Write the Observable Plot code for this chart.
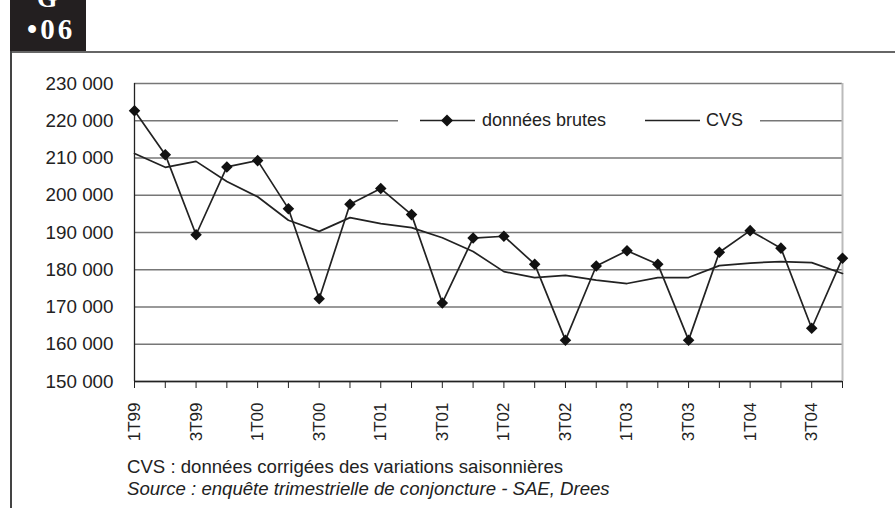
<!DOCTYPE html>
<html><head><meta charset="utf-8">
<script src="https://cdn.jsdelivr.net/npm/d3@7"></script>
<script src="https://cdn.jsdelivr.net/npm/@observablehq/plot@0.6"></script>
<style>
html,body{margin:0;background:#fff;font-family:"Liberation Sans",Arial,sans-serif;overflow:hidden;}
#wrap{position:relative;width:895px;height:508px;overflow:hidden;background:#fff;}
#badge{position:absolute;left:10px;top:0;width:76px;height:52px;background:#231f20;color:#fff;font-family:"Liberation Serif","Times New Roman",serif;font-weight:bold;}
#badge .g{position:absolute;left:27px;top:-14px;font-size:26px;line-height:26px;}
#badge .n{position:absolute;left:17px;top:15px;font-size:29px;line-height:29px;letter-spacing:3px;}
#hr{position:absolute;left:10px;top:51px;width:885px;height:2px;background:#666;}
#vr{position:absolute;left:10px;top:51px;width:2px;height:457px;background:#444;}
#chart{position:absolute;left:0;top:50px;width:895px;}
#chart svg{max-width:none;}
#legend{position:absolute;left:398px;top:110px;width:362px;height:21px;background:#fff;font-size:18px;color:#222;}
#legend span{position:absolute;top:0;line-height:21px;white-space:nowrap;}
#legend svg{position:absolute;top:0;}
#caption{position:absolute;left:127px;top:456px;font-size:18.6px;line-height:22px;color:#222;white-space:nowrap;}
</style>
</head><body>
<div id="wrap">
  <div id="badge"><span class="g">G</span><span class="n">•06</span></div>
  <div id="hr"></div>
  <div id="vr"></div>
  <div id="chart"></div>
  <div id="legend">
    <svg width="60" height="21" style="left:22px"><line x1="0" y1="10.5" x2="55" y2="10.5" stroke="#222" stroke-width="1.7"/><path d="M27,4.5 L33,10.5 L27,16.5 L21,10.5 Z" fill="#111"/></svg>
    <span style="left:84px">données brutes</span>
    <svg width="60" height="21" style="left:247px"><line x1="0" y1="10.5" x2="55" y2="10.5" stroke="#222" stroke-width="1.7"/></svg>
    <span style="left:308px">CVS</span>
  </div>
  <div id="caption">CVS : données corrigées des variations saisonnières<br><i>Source : enquête trimestrielle de conjoncture - SAE, Drees</i></div>
</div>
<script>
const quarters = ["1T99","2T99","3T99","4T99","1T00","2T00","3T00","4T00","1T01","2T01","3T01","4T01",
                  "1T02","2T02","3T02","4T02","1T03","2T03","3T03","4T03","1T04","2T04","3T04","4T04"];
const xTickLabels = ["1T99","3T99","1T00","3T00","1T01","3T01","1T02","3T02","1T03","3T03","1T04","3T04"];
const brutes = [222700,210900,189400,207600,209300,196400,172200,197600,201800,194800,171100,188500,
                189000,181500,161100,181000,185100,181500,161100,184700,190500,185800,164300,183100];
const cvs = [211200,207500,209100,203700,199600,193300,190300,194000,192400,191300,188600,184900,
             179500,177900,178500,177200,176300,177900,177900,181100,181800,182200,181900,179000];
const yTicks = [150000,160000,170000,180000,190000,200000,210000,220000,230000];

const data = quarters.map((q,i)=>({i, q, brutes:brutes[i], cvs:cvs[i]}));
const idx = quarters.map((q,i)=>i);
const fmt = d => d3.format(",")(d).replace(/,/g," ");

const chart = Plot.plot({
  width: 895, height: 400,
  marginLeft: 134, marginRight: 53, marginTop: 33, marginBottom: 69,
  style: {fontFamily: "'Liberation Sans', Arial, sans-serif", fontSize: "18px", color: "#222", background: "transparent", overflow: "visible"},
  x: {type: "linear", domain: [0, quarters.length - 1], inset: 0, label: null},
  y: {domain: [150000, 230000], label: null},
  marks: [
    Plot.gridY(yTicks, {stroke: "#777", strokeOpacity: 1, strokeWidth: 1.3}),
    Plot.ruleX([quarters.length - 1], {stroke: "#bbb", strokeWidth: 2}),
    Plot.ruleX([0], {stroke: "#222", strokeWidth: 1.3}),
    Plot.ruleY([150000], {stroke: "#222", strokeWidth: 1.3}),
    Plot.axisY(yTicks, {tickSize: 0, tickPadding: 21, tickFormat: fmt, fontSize: 18.8, label: null}),
    Plot.axisX(idx, {tickSize: 7, tickPadding: 14, tickRotate: -90, stroke: "#222", label: null,
      tickFormat: i => xTickLabels.includes(quarters[i]) ? quarters[i] : "", fontSize: 17}),
    Plot.line(data, {x: "i", y: "cvs", stroke: "#222", strokeWidth: 1.7}),
    Plot.line(data, {x: "i", y: "brutes", stroke: "#222", strokeWidth: 1.7}),
    Plot.dot(data, {x: "i", y: "brutes", symbol: "diamond2", fill: "#111", stroke: "none", r: 5.2})
  ]
});
document.getElementById("chart").appendChild(chart);
</script>
</body></html>
